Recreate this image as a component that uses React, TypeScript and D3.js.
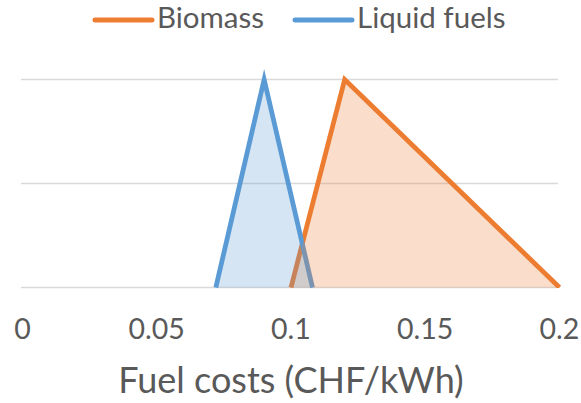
import React from "react";
import * as d3 from "d3";

const W = 581;
const H = 403;

const seriesNames = ["Biomass", "Liquid fuels"];
const seriesColors = ["#ED7D31", "#5B9BD5"];
const biomassX = [0.1, 0.12, 0.2];
const biomassY = [0, 1, 0];
const liquidX = [0.072, 0.09, 0.108];
const liquidY = [0, 1, 0];
const xTicks = [0, 0.05, 0.1, 0.15, 0.2];
const xTickLabels = ["0", "0.05", "0.1", "0.15", "0.2"];
const yGrid = [0, 0.5, 1];
const xTitle = "Fuel costs (CHF/kWh)";

const FONT = "Lato, 'Open Sans', sans-serif";
const TEXT = "#595959";

export default function App() {
  const x = d3.scaleLinear().domain([0, 0.2]).range([22.5, 559.5]);
  const y = d3.scaleLinear().domain([0, 1]).range([287.5, 79.5]);

  const series = [
    { name: seriesNames[0], color: seriesColors[0], pts: biomassX.map((v, i) => [v, biomassY[i]] as [number, number]) },
    { name: seriesNames[1], color: seriesColors[1], pts: liquidX.map((v, i) => [v, liquidY[i]] as [number, number]) },
  ];

  const line = d3.line<[number, number]>().x((d) => x(d[0])).y((d) => y(d[1]));

  const legendItems = [
    { name: seriesNames[0], color: seriesColors[0], x0: 95 },
    { name: seriesNames[1], color: seriesColors[1], x0: 295 },
  ];

  return (
    <svg
      width={W}
      height={H}
      style={{ position: "absolute", left: 0, top: 0, background: "#fff" }}
      fontFamily={FONT}
    >
      <defs>
        <clipPath id="plotclip">
          <rect x={0} y={0} width={W} height={y(0) + 0.5} />
        </clipPath>
      </defs>
      {yGrid.map((g) => (
        <line
          key={g}
          x1={21}
          x2={558}
          y1={y(g)}
          y2={y(g)}
          stroke="#D9D9D9"
          strokeWidth={1.6}
        />
      ))}
      <g clipPath="url(#plotclip)">
        {series.map((s) => (
          <path
            key={"l" + s.name}
            d={line(s.pts) || ""}
            fill="none"
            stroke={s.color}
            strokeWidth={4.8}
            strokeLinejoin="miter"
            strokeMiterlimit={10}
          />
        ))}
        {series.map((s) => (
          <path
            key={"f" + s.name}
            d={(line(s.pts) || "") + "Z"}
            fill={s.color}
            fillOpacity={0.26}
            stroke="none"
          />
        ))}
      </g>
      {xTicks.map((t, i) => (
        <text
          key={t}
          x={x(t)}
          y={339}
          textAnchor="middle"
          fontSize={28.5}
          fill={TEXT}
        >
          {xTickLabels[i]}
        </text>
      ))}
      <text x={291} y={393} textAnchor="middle" fontSize={36} fill={TEXT}>
        {xTitle}
      </text>
      {legendItems.map((l) => (
        <g key={l.name}>
          <line
            x1={l.x0}
            x2={l.x0 + 57}
            y1={20}
            y2={20}
            stroke={l.color}
            strokeWidth={5}
            strokeLinecap="round"
          />
          <text x={l.x0 + 62} y={27.5} fontSize={29.5} fill={TEXT}>
            {l.name}
          </text>
        </g>
      ))}
    </svg>
  );
}
